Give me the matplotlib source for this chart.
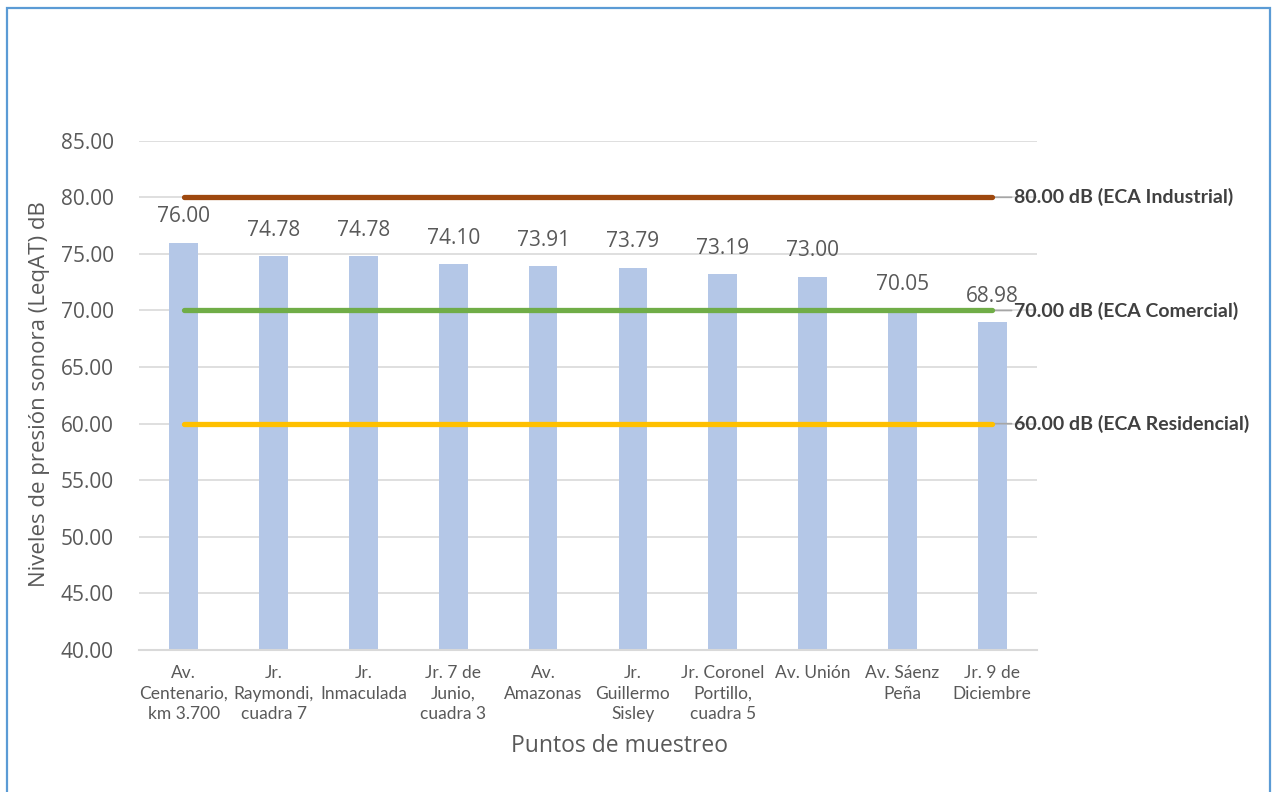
import matplotlib.pyplot as plt
from matplotlib.patches import Rectangle

# datos
puntos = ["Av.\nCentenario,\nkm 3.700", "Jr.\nRaymondi,\ncuadra 7", "Jr.\nInmaculada",
          "Jr. 7 de\nJunio,\ncuadra 3", "Av.\nAmazonas", "Jr.\nGuillermo\nSisley",
          "Jr. Coronel\nPortillo,\ncuadra 5", "Av. Unión", "Av. Sáenz\nPeña",
          "Jr. 9 de\nDiciembre"]
niveles = [76.00, 74.78, 74.78, 74.10, 73.91, 73.79, 73.19, 73.00, 70.05, 68.98]
eca_valores = [80.0, 70.0, 60.0]
eca_nombres = ["ECA Industrial", "ECA Comercial", "ECA Residencial"]
eca_colores = ["#9E480E", "#70AD47", "#FFC000"]

GRIS = "#595959"

fig = plt.figure(figsize=(12.77, 7.92), dpi=100)
ax = fig.add_axes([0.1088, 0.1793, 0.7033, 0.643])

x = list(range(len(puntos)))
ax.bar(x, niveles, width=0.32, color="#B4C7E7", zorder=2)

for xi, v in zip(x, niveles):
    ax.annotate(f"{v:.2f}", (xi, v), xytext=(0, 11), textcoords="offset points",
                ha="center", va="bottom", fontsize=15, color=GRIS,
                family="Open Sans", zorder=5)

for val, nombre, col in zip(eca_valores, eca_nombres, eca_colores):
    ax.plot(x, [val] * len(x), color=col, lw=3.8, solid_capstyle="round", zorder=4)
    ax.annotate(f"{val:.2f} dB ({nombre})", xy=(x[-1], val), xytext=(16, 0),
                textcoords="offset points", ha="left", va="center",
                fontsize=14, fontweight="bold", color="#404040", family="Lato",
                annotation_clip=False,
                arrowprops=dict(arrowstyle="-", color="#A6A6A6", lw=1.2,
                                shrinkA=0, shrinkB=1))

ax.set_xlim(-0.5, len(puntos) - 0.5)
ax.set_ylim(40, 85)
ax.set_yticks([40, 45, 50, 55, 60, 65, 70, 75, 80, 85])
ax.set_yticklabels([f"{t:.2f}" for t in ax.get_yticks()], family="Open Sans",
                   fontsize=15, color=GRIS)
ax.set_xticks(x)
ax.set_xticklabels(puntos, family="Lato", fontsize=12.5, color=GRIS, linespacing=1.35)
ax.tick_params(axis="both", length=0)
ax.tick_params(axis="x", pad=11)
ax.tick_params(axis="y", pad=18)

ax.grid(axis="y", color="#D9D9D9", lw=1.2, zorder=0)
ax.set_axisbelow(True)
for s in ["top", "right", "left"]:
    ax.spines[s].set_visible(False)
ax.spines["bottom"].set_color("#D9D9D9")
ax.spines["bottom"].set_linewidth(1.5)

ax.set_xlabel("Puntos de muestreo", family="Open Sans", fontsize=16.5, color=GRIS,
              va="center")
ax.xaxis.set_label_coords((620 - 139) / 898, (650 - 746) / 509.3)
ax.set_ylabel("Niveles de presión sonora (LeqAT) dB", family="Open Sans", fontsize=16,
              color=GRIS, va="center")
ax.yaxis.set_label_coords((40 - 139) / 898, (650 - 394) / 509.3)

# marco azul del grafico
fig.patches.append(Rectangle((7 / 1277, -0.01), 1263 / 1277, 1 - 8 / 792 + 0.01,
                             transform=fig.transFigure, fill=False,
                             edgecolor="#5B9BD5", lw=1.6))

fig.savefig("out.png", dpi=100)
